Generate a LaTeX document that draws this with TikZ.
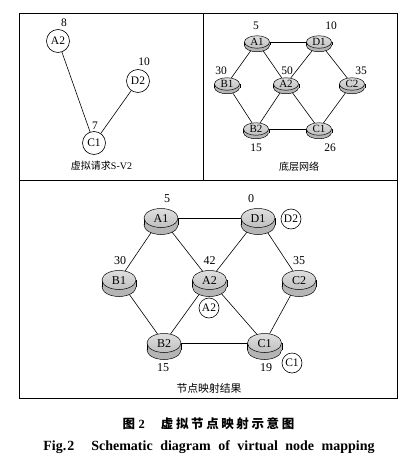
\documentclass[tikz,border=0pt]{standalone}
\usepackage{fontspec}
\setmainfont{Liberation Serif}
\newfontfamily\cjk{Noto Sans CJK SC}
\usetikzlibrary{shapes.geometric,backgrounds}
\newcommand\mydisk[6]{%
  \node[#6, diskside] (#1b) at (#2,#3+#4) {};
  \fill[gray!58] (#1b.west) rectangle ([yshift=#4pt]#1b.east);
  \draw[line width=0.5pt] (#1b.west) -- ([yshift=#4pt]#1b.west) (#1b.east) -- ([yshift=#4pt]#1b.east);
  \node[#6, disktop] (#1) at (#2,#3) {#5};
}
\begin{document}
\begin{tikzpicture}[x=1pt,y=-1pt,
  lab/.style={font=\fontsize{11.5}{12}\selectfont, inner sep=0},
  blab/.style={font=\fontsize{12}{12}\selectfont, inner sep=0},
  vcirc/.style={circle, draw, line width=0.6pt, minimum size=23pt, inner sep=0, font=\fontsize{11.5}{12}\selectfont},
  mcirc/.style={circle, draw, line width=0.6pt, minimum size=20pt, inner sep=0, font=\fontsize{11.5}{12}\selectfont},
  sdisk/.style={ellipse, draw, line width=0.5pt, minimum width=25pt, minimum height=12.5pt, inner sep=0, text height=7pt, text depth=0pt, font=\fontsize{11}{11}\selectfont},
  ldisk/.style={ellipse, draw, line width=0.5pt, minimum width=34pt, minimum height=19pt, inner sep=0, text height=8pt, text depth=0pt, font=\fontsize{12}{12}\selectfont},
  diskside/.style={fill=gray!58},
  disktop/.style={top color=gray!25, bottom color=gray!50},
  edge/.style={line width=0.6pt},
  frame/.style={line width=0.8pt},
  pcap/.style={font=\cjk\fontsize{10}{10}\selectfont, inner sep=0}
]
\useasboundingbox (0,0) rectangle (408,460);
% frame
\draw[frame] (19,13) rectangle (397,398);
\draw[frame] (203,13) -- (203,180);
\draw[frame] (19,180) -- (397,180);

% ---------- top-left: virtual request
\node[vcirc] (vA2) at (58,41) {A2};
\node[vcirc] (vD2) at (138,81) {D2};
\node[vcirc] (vC1) at (94,143) {C1};
\draw[edge] (vA2) -- (vC1);
\draw[edge] (vD2) -- (vC1);
\node[lab] (lvA2) at (64,23) {8};
\node[lab] (lvD2) at (144,62) {10};
\node[lab] (lvC1) at (95,126) {7};
\node[pcap] (cap1) at (101.5,166) {虚拟请求\fontspec{Liberation Serif}S-V2};

% ---------- top-right: substrate network
\mydisk{sA1}{257}{42}{3.5}{A1}{sdisk}
\mydisk{sD1}{319}{42}{3.5}{D1}{sdisk}
\mydisk{sB1}{227}{84}{3.5}{B1}{sdisk}
\mydisk{sA2}{286}{84}{3.5}{A2}{sdisk}
\mydisk{sC2}{352}{84}{3.5}{C2}{sdisk}
\mydisk{sB2}{256}{129}{3.5}{B2}{sdisk}
\mydisk{sC1}{319}{129}{3.5}{C1}{sdisk}
\begin{scope}[on background layer]
\draw[edge] (sA1) -- (sD1);
\draw[edge] (sA1) -- (sB1);
\draw[edge] (sA1) -- (sA2);
\draw[edge] (sD1) -- (sA2);
\draw[edge] (sD1) -- (sC2);
\draw[edge] (sB1) -- (sB2);
\draw[edge] (sA2) -- (sB2);
\draw[edge] (sA2) -- (sC1);
\draw[edge] (sC2) -- (sC1);
\draw[edge] (sB2) -- (sC1);
\end{scope}
\node[lab] (lsA1) at (256,26) {5};
\node[lab] (lsD1) at (331,26) {10};
\node[lab] (lsB1) at (221,71) {30};
\node[lab] (lsA2) at (287,71) {50};
\node[lab] (lsC2) at (361,71) {35};
\node[lab] (lsB2) at (256,148) {15};
\node[lab] (lsC1) at (330,148) {26};
\node[pcap] (cap2) at (299,166.5) {底层网络};

% ---------- bottom: mapping result
\mydisk{mA1}{161}{218}{7}{A1}{ldisk}
\mydisk{mD1}{258}{218}{7}{D1}{ldisk}
\mydisk{mB1}{119}{280}{7}{B1}{ldisk}
\mydisk{mA2}{209.5}{280}{7}{A2}{ldisk}
\mydisk{mC2}{299}{280}{7}{C2}{ldisk}
\mydisk{mB2}{164}{343}{7}{B2}{ldisk}
\mydisk{mC1}{264.5}{343}{7}{C1}{ldisk}
\begin{scope}[on background layer]
\draw[edge] (mA1) -- (mD1);
\draw[edge] (mA1) -- (mB1);
\draw[edge] (mA1) -- (mA2);
\draw[edge] (mD1) -- (mA2);
\draw[edge] (mD1) -- (mC2);
\draw[edge] (mB1) -- (mB2);
\draw[edge] (mA2) -- (mB2);
\draw[edge] (mA2) -- (mC1);
\draw[edge] (mC2) -- (mC1);
\draw[edge] (mB2) -- (mC1);
\end{scope}
\node[blab] (lmA1) at (167,199) {5};
\node[blab] (lmD1) at (251,199) {0};
\node[blab] (lmB1) at (120,261) {30};
\node[blab] (lmA2) at (209.5,261) {42};
\node[blab] (lmC2) at (299,261) {35};
\node[blab] (lmB2) at (163,368) {15};
\node[blab] (lmC1) at (266,368) {19};
\node[mcirc] (mvD2) at (291,219) {D2};
\node[mcirc] (mvA2) at (209,308) {A2};
\node[mcirc] (mvC1) at (292,363) {C1};
\node[pcap, font=\cjk\fontsize{10.8}{11}\selectfont] (cap3) at (209,388) {节点映射结果};

% ---------- figure caption
\node[inner sep=0, font=\fontsize{12.5}{13}\selectfont] (figcn) at (208.5,424)
  {{\cjk\bfseries 图}\hspace{3.5pt}\textbf{2}\hspace{16pt}{\cjk\bfseries 虚\hspace{2.6pt}拟\hspace{2.6pt}节\hspace{2.6pt}点\hspace{2.6pt}映\hspace{2.6pt}射\hspace{2.6pt}示\hspace{2.6pt}意\hspace{2.6pt}图}};
\node[inner sep=0, font=\bfseries\fontsize{14}{14}\selectfont] (figen) at (209,447)
  {Fig.\hspace{1pt}2\hspace{17pt}Schematic\hspace{7.5pt}diagram\hspace{7.5pt}of\hspace{7.5pt}virtual\hspace{7.5pt}node\hspace{7.5pt}mapping};
\end{tikzpicture}
\end{document}
